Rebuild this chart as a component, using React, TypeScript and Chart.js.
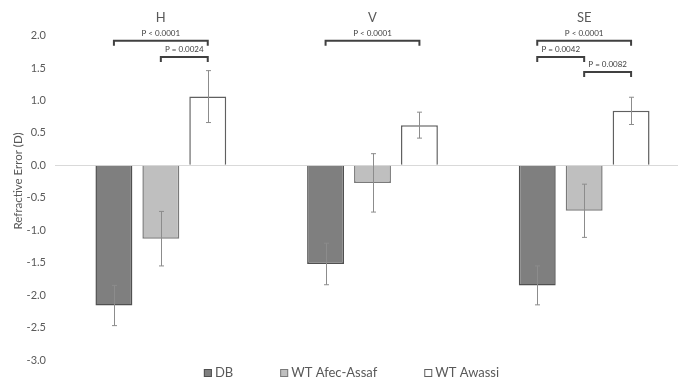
import React, { useEffect, useRef } from "react";
import { Chart, registerables } from "chart.js";

Chart.register(...registerables);

const categories = ["H", "V", "SE"];
const seriesNames = ["DB", "WT Afec-Assaf", "WT Awassi"];
const dbValues = [-2.16, -1.52, -1.85];
const dbErrors = [0.31, 0.32, 0.3];
const afecValues = [-1.13, -0.27, -0.7];
const afecErrors = [0.42, 0.45, 0.41];
const awassiValues = [1.06, 0.62, 0.84];
const awassiErrors = [0.4, 0.2, 0.21];
const yTickMin = -3;
const yTickMax = 2;
const yTickStep = 0.5;
const yTitle = "Refractive Error (D)";

const bracketCats = [0, 0, 1, 2, 2, 2];
const bracketFrom = [0, 1, 0, 0, 0, 1];
const bracketTo = [2, 2, 2, 2, 1, 2];
const bracketLevels = [1.92, 1.67, 1.92, 1.92, 1.67, 1.44];
const bracketLabels = ["P < 0.0001", "P = 0.0024", "P < 0.0001", "P < 0.0001", "P = 0.0042", "P = 0.0082"];

const FONT = "Lato";
const TEXT = "#595959";

const errorArrays = [dbErrors, afecErrors, awassiErrors];

const extrasPlugin = {
  id: "extras",
  afterDatasetsDraw(chart: any) {
    const ctx = chart.ctx;
    const y = chart.scales.y;
    ctx.save();
    // error bars
    ctx.strokeStyle = "#8c8c8c";
    ctx.lineWidth = 1;
    chart.data.datasets.forEach((ds: any, i: number) => {
      const meta = chart.getDatasetMeta(i);
      meta.data.forEach((bar: any, j: number) => {
        const v = ds.data[j];
        const e = errorArrays[i][j];
        const x = Math.round(bar.x) + 0.5;
        const y1 = y.getPixelForValue(v + e);
        const y2 = y.getPixelForValue(v - e);
        ctx.beginPath();
        ctx.moveTo(x, y1);
        ctx.lineTo(x, y2);
        ctx.moveTo(x - 2.5, y1);
        ctx.lineTo(x + 2.5, y1);
        ctx.moveTo(x - 2.5, y2);
        ctx.lineTo(x + 2.5, y2);
        ctx.stroke();
      });
    });
    // significance brackets
    ctx.strokeStyle = "#404040";
    ctx.lineWidth = 2;
    ctx.fillStyle = "#404040";
    ctx.font = `8px ${FONT}`;
    ctx.textAlign = "center";
    ctx.textBaseline = "middle";
    bracketLabels.forEach((label, k) => {
      const c = bracketCats[k];
      const xa = chart.getDatasetMeta(bracketFrom[k]).data[c].x;
      const xb = chart.getDatasetMeta(bracketTo[k]).data[c].x;
      const yy = y.getPixelForValue(bracketLevels[k]);
      ctx.beginPath();
      ctx.moveTo(xa, yy + 5);
      ctx.lineTo(xa, yy);
      ctx.lineTo(xb, yy);
      ctx.lineTo(xb, yy + 5);
      ctx.stroke();
      ctx.fillText(label, (xa + xb) / 2, yy - 7.5);
    });
    ctx.restore();

    // y-axis title
    ctx.save();
    ctx.fillStyle = TEXT;
    ctx.font = `11.5px ${FONT}`;
    ctx.textAlign = "center";
    ctx.textBaseline = "middle";
    ctx.translate(18, 181);
    ctx.rotate(-Math.PI / 2);
    ctx.fillText(yTitle, 0, 0);
    ctx.restore();

    // legend
    ctx.save();
    ctx.font = `13px ${FONT}`;
    ctx.textBaseline = "middle";
    ctx.textAlign = "left";
    const box = 8;
    const gapText = 3;
    const gapItem = 47;
    const widths = chart.data.datasets.map((ds: any) => box + gapText + ctx.measureText(ds.label).width);
    const total = widths.reduce((a: number, b: number) => a + b, 0) + gapItem * (widths.length - 1);
    let x = chart.width / 2 + 1.5 - total / 2;
    const ly = 373;
    chart.data.datasets.forEach((ds: any, i: number) => {
      ctx.fillStyle = ds.backgroundColor;
      ctx.fillRect(x, ly - box / 2, box, box);
      ctx.strokeStyle = ds.borderColor;
      ctx.lineWidth = 1;
      ctx.strokeRect(x + 0.5, ly - box / 2 + 0.5, box - 1, box - 1);
      ctx.fillStyle = TEXT;
      ctx.fillText(ds.label, x + box + gapText, ly);
      x += widths[i] + gapItem;
    });
    ctx.restore();
  },
};

export default function App() {
  const ref = useRef<HTMLCanvasElement>(null);
  useEffect(() => {
    if (!ref.current) return;
    const chart = new Chart(ref.current, {
      type: "bar",
      data: {
        labels: categories,
        datasets: [
          {
            label: seriesNames[0],
            data: dbValues,
            backgroundColor: "#7f7f7f",
            borderColor: "#505050",
            borderWidth: 1.5,
          },
          {
            label: seriesNames[1],
            data: afecValues,
            backgroundColor: "#bfbfbf",
            borderColor: "#7a7a7a",
            borderWidth: 1.5,
          },
          {
            label: seriesNames[2],
            data: awassiValues,
            backgroundColor: "#ffffff",
            borderColor: "#606060",
            borderWidth: 1.5,
          },
        ],
      },
      options: {
        responsive: false,
        animation: false,
        categoryPercentage: 0.665,
        barPercentage: 0.787,
        layout: { padding: { left: 0, right: 10, top: 0, bottom: 20 } },
        plugins: {
          legend: { display: false },
          tooltip: { enabled: false },
        },
        scales: {
          x: {
            position: "top",
            grid: { display: false, drawTicks: false },
            border: { display: false },
            ticks: { color: TEXT, font: { family: FONT, size: 13 }, padding: 10 },
          },
          y: {
            min: yTickMin,
            max: yTickMax,
            ticks: {
              stepSize: yTickStep,
              color: TEXT,
              font: { family: FONT, size: 11 },
              padding: 9,
              callback: (v: any) => Number(v).toFixed(1),
            },
            grid: {
              drawTicks: false,
              color: (c: any) => (c.tick && c.tick.value === 0 ? "#d9d9d9" : "rgba(0,0,0,0)"),
            },
            border: { display: false },
            afterFit: (s: any) => {
              s.width = 55;
            },
          },
        },
      },
      plugins: [extrasPlugin],
    });
    return () => chart.destroy();
  }, []);
  return (
    <div
      style={{
        position: "fixed",
        left: 0,
        top: 0,
        width: 678,
        height: 380,
        overflow: "hidden",
        background: "#ffffff",
      }}
    >
      <canvas ref={ref} width={700} height={380} style={{ display: "block" }} />
    </div>
  );
}
